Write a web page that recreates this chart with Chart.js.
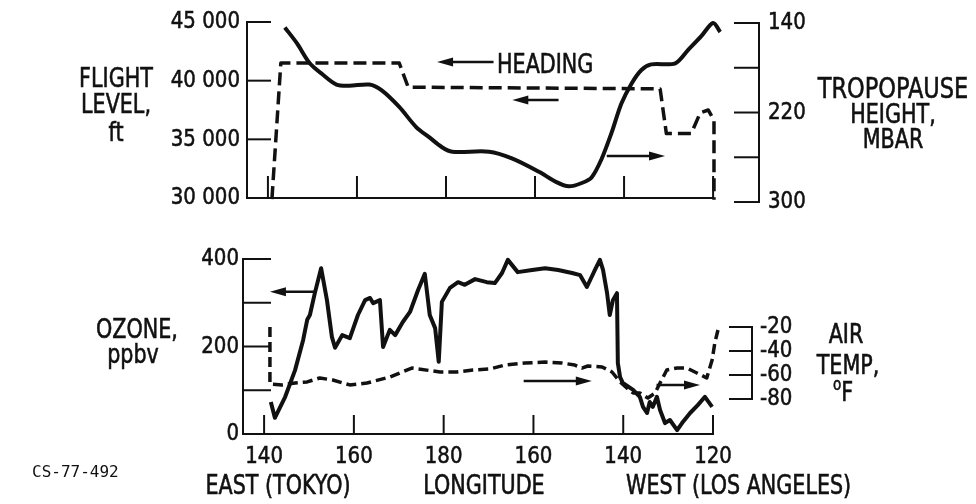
<!DOCTYPE html>
<html>
<head>
<meta charset="utf-8">
<script src="https://cdn.jsdelivr.net/npm/chart.js@4.4.1/dist/chart.umd.min.js"></script>
<style>
  html, body { margin: 0; padding: 0; background: #fff; }
  #wrap { position: relative; width: 976px; height: 504px; overflow: hidden; }
  canvas { position: absolute; left: 0; }
  #top { top: 0; }
  #bottom { top: 232px; }
  .lbl {
    position: absolute; transform: translate(-50%, -50%) scale(1, 1.15); white-space: nowrap;
    font-family: 'DejaVu Sans Condensed', 'Liberation Sans Narrow', 'DejaVu Sans', sans-serif;
    font-stretch: condensed; font-size: 23px; line-height: 1; color: #111;
    -webkit-text-stroke: 0.5px #111;
  }
  .left { transform: translate(0, -50%) scale(1, 1.15); transform-origin: left center; }
  .code { font-family: 'DejaVu Sans Mono', monospace; font-size: 16px; font-stretch: normal;
    transform: translate(0, -50%); -webkit-text-stroke: 0; }
  sup { font-size: 15px; vertical-align: 9px; }
</style>
</head>
<body>
<div id="wrap">
  <canvas id="top" width="976" height="232"></canvas>
  <canvas id="bottom" width="976" height="272"></canvas>

  <div class="lbl" style="left:116px; top:78px;">FLIGHT</div>
  <div class="lbl" style="left:116px; top:104px;">LEVEL,</div>
  <div class="lbl" style="left:116px; top:132px;">ft</div>

  <div class="lbl" style="left:893px; top:88px; font-size:25px;">TROPOPAUSE</div>
  <div class="lbl" style="left:893px; top:114px;">HEIGHT,</div>
  <div class="lbl" style="left:893px; top:139px;">MBAR</div>

  <div class="lbl left" style="left:497px; top:64px;">HEADING</div>

  <div class="lbl" style="left:137px; top:329px;">OZONE,</div>
  <div class="lbl" style="left:133px; top:354px;">ppbv</div>

  <div class="lbl" style="left:846px; top:334px;">AIR</div>
  <div class="lbl" style="left:848px; top:365px;">TEMP,</div>
  <div class="lbl" style="left:843px; top:391px;"><sup>o</sup>F</div>

  <div class="lbl" style="left:278px; top:485px;">EAST (TOKYO)</div>
  <div class="lbl" style="left:484px; top:485px;">LONGITUDE</div>
  <div class="lbl left" style="left:626px; top:485px;">WEST (LOS ANGELES)</div>

  <div class="lbl left code" style="left:32px; top:472px;">CS-77-492</div>
</div>

<script>
// longitude runs east -> west: 140E=140, 180=180, 160W=200, 140W=220, 120W=240
const lonTicks = [140, 160, 180, 200, 220, 240];
const lonLabels = ['140', '160', '180', '160', '140', '120'];

// top panel: flight level (dashed, left axis)
const flightLon = [140.9, 142.9, 169.5, 171.5, 228.1, 229.5, 235.1, 237.1, 238.9, 240.2, 240.2];
const flightFt = [29900, 41500, 41500, 39450, 39300, 35500, 35500, 37250, 37500, 36650, 29850];
const flightTicks = [45000, 40000, 35000, 30000];
const flightLabels = ['45 000', '40 000', '35 000', '30 000'];

// top panel: tropopause height (solid, right axis, reversed)
const tropoLon = [143.8, 146.5, 149.4, 152.3, 155.4, 158.3, 162.8, 165.5, 169.5, 173.3, 176.2,
  179.1, 181.4, 189.7, 194.8, 200.9, 204.7, 207.6, 210.5, 212.7, 214.9, 217.2, 219.4, 221.7,
  223.9, 226.1, 231.5, 234.4, 237.3, 240.0, 241.6];
const tropoMbar = [144, 158, 176, 186, 195, 196, 195, 200, 215, 233, 242,
  251, 255, 255, 261, 273, 282, 286, 283, 278, 262, 238, 212, 194,
  182, 177, 176, 164, 152, 140, 148];
const tropoTicks = [140, 180, 220, 260, 300];
const tropoLabels = ['140', '', '220', '', '300'];

// bottom panel: ozone (solid, left axis)
const ozoneLon = [141.5, 142.4, 144.7, 146.9, 148.7, 149.6, 150.2, 151.3, 152.7, 154.0, 155.1,
  155.8, 157.4, 159.1, 160.9, 162.5, 163.6, 164.3, 165.8, 166.5, 168.0, 169.2, 170.9, 172.5,
  174.3, 175.8, 176.9, 178.1, 178.9, 179.6, 181.4, 183.2, 184.7, 187.0, 189.6, 191.4, 193.0,
  194.3, 196.5, 199.7, 202.6, 205.5, 208.6, 210.4, 211.9, 213.7, 214.8, 215.5, 216.4, 217.0,
  217.7, 218.6, 218.8, 219.3, 219.9, 222.2, 223.7, 224.4, 225.3, 225.9, 226.6, 227.5, 228.2,
  229.3, 230.4, 232.0, 233.1, 234.9, 236.6, 238.2, 239.8];
const ozonePpbv = [73, 37, 85, 146, 215, 261, 272, 322, 379, 306, 222,
  197, 226, 219, 272, 306, 311, 299, 306, 199, 238, 226, 256, 279,
  329, 366, 272, 242, 165, 302, 334, 347, 341, 354, 347, 345, 368,
  398, 370, 375, 379, 375, 368, 363, 336, 375, 398, 375, 322, 272,
  306, 322, 162, 130, 117, 101, 85, 62, 48, 73, 62, 85, 55,
  25, 32, 9, 25, 48, 66, 85, 62];
const ozoneTicks = [400, 300, 200, 100, 0];
const ozoneLabels = ['400', '', '200', '', '0'];

// bottom panel: air temperature (dashed, right axis)
const tempLon = [141.3, 141.3, 144.0, 146.9, 149.6, 152.4, 155.3, 159.1, 162.9, 168.0, 172.9,
  179.2, 182.9, 186.5, 190.3, 193.7, 198.1, 202.6, 206.3, 209.2, 210.8, 212.1, 215.3, 217.5,
  219.3, 220.8, 222.2, 223.7, 225.5, 227.1, 228.2, 229.7, 232.0, 234.2, 236.4, 238.6, 239.8,
  240.4, 241.1];
const tempF = [-20, -67.5, -68.3, -66.7, -65.8, -62.5, -64.2, -68.3, -66.7, -61.7, -54.2,
  -57.5, -57.5, -55.8, -55, -51.7, -50, -49.2, -50, -51.7, -54.2, -52.5, -53.3, -57.5,
  -65.8, -70.8, -75, -75, -79.2, -75, -66.7, -55.8, -54.2, -54.2, -58.3, -62.5, -47.5,
  -33.3, -22.5];
const tempTicks = [-20, -40, -60, -80];
const tempLabels = ['-20', '-40', '-60', '-80'];

const INK = '#111';
const TICK_FONT = "22px 'DejaVu Sans Condensed', 'Liberation Sans Narrow', 'DejaVu Sans', sans-serif";

function toPoints(xs, ys) {
  return xs.map((x, i) => ({ x: x, y: ys[i] }));
}

function seg(ctx, x1, y1, x2, y2) {
  ctx.beginPath();
  ctx.moveTo(x1, y1);
  ctx.lineTo(x2, y2);
  ctx.stroke();
}

function arrow(ctx, x1, y1, x2, y2) {
  const a = Math.atan2(y2 - y1, x2 - x1);
  const c = Math.cos(a), s = Math.sin(a);
  const head = 16, half = 4.5;
  seg(ctx, x1, y1, x2 - c * head * 0.7, y2 - s * head * 0.7);
  ctx.beginPath();
  ctx.moveTo(x2, y2);
  ctx.lineTo(x2 - c * head + s * half, y2 - s * head - c * half);
  ctx.lineTo(x2 - c * head - s * half, y2 - s * head + c * half);
  ctx.closePath();
  ctx.fill();
}

// tick label, a bit taller than the font like the typeset original
function label(ctx, text, x, y) {
  ctx.save();
  ctx.translate(x, y);
  ctx.scale(1, 1.08);
  ctx.fillText(text, 0, 0);
  ctx.lineWidth = 0.5;
  ctx.strokeText(text, 0, 0);
  ctx.restore();
}

// hand drawn style axes: inward ticks, detached right-hand brackets
const frame = {
  id: 'frame',
  afterDatasetsDraw(chart, args, opts) {
    const ctx = chart.ctx;
    const area = chart.chartArea;
    ctx.save();
    ctx.strokeStyle = INK;
    ctx.fillStyle = INK;
    ctx.lineWidth = 2;
    ctx.lineCap = 'square';
    ctx.font = TICK_FONT;
    ctx.textBaseline = 'middle';

    opts.axes.forEach(ax => {
      const sc = chart.scales[ax.scale];
      if (ax.side === 'bottom') {
        const y = area.bottom;
        seg(ctx, area.left, y, sc.getPixelForValue(ax.end), y);
        ax.ticks.forEach((v, i) => {
          const x = sc.getPixelForValue(v);
          seg(ctx, x, y, x, y - ax.tickLength);
          if (ax.labels && ax.labels[i]) {
            ctx.textAlign = 'center';
            label(ctx, ax.labels[i], x, y + ax.labelGap);
          }
        });
      } else {
        const left = ax.side === 'left';
        const x = left ? area.left : area.right + ax.offset;
        seg(ctx, x, sc.getPixelForValue(ax.ticks[0]), x, sc.getPixelForValue(ax.ticks[ax.ticks.length - 1]));
        ax.ticks.forEach((v, i) => {
          const y = sc.getPixelForValue(v);
          seg(ctx, x, y, left ? x + ax.tickLength : x - ax.tickLength, y);
          if (ax.labels[i]) {
            ctx.textAlign = left ? 'right' : 'left';
            label(ctx, ax.labels[i], left ? x - ax.labelGap : x + ax.labelGap, y);
          }
        });
      }
    });

    const xs = chart.scales.x;
    ctx.lineWidth = 2.5;
    opts.arrows.forEach(ar => {
      const ys = chart.scales[ar.scale];
      arrow(ctx, xs.getPixelForValue(ar.from[0]), ys.getPixelForValue(ar.from[1]),
        xs.getPixelForValue(ar.to[0]), ys.getPixelForValue(ar.to[1]));
    });
    ctx.restore();
  }
};

function lineSet(xs, ys, axis, width, dash, tension) {
  return {
    data: toPoints(xs, ys),
    yAxisID: axis,
    borderColor: INK,
    borderWidth: width,
    borderDash: dash,
    borderJoinStyle: 'round',
    borderCapStyle: 'butt',
    pointRadius: 0,
    tension: tension,
    fill: false,
    clip: false
  };
}

const baseOptions = {
  responsive: false,
  animation: false,
  devicePixelRatio: 1,
  events: [],
  plugins: { legend: { display: false }, tooltip: { enabled: false } }
};

new Chart(document.getElementById('top'), {
  type: 'line',
  data: {
    datasets: [
      lineSet(flightLon, flightFt, 'y', 3.5, [13, 6], 0),
      lineSet(tropoLon, tropoMbar, 'y2', 4, [], 0.3)
    ]
  },
  options: {
    ...baseOptions,
    layout: { padding: { left: 247, right: 254, top: 22, bottom: 34 } },
    scales: {
      x: { type: 'linear', min: 135.3, max: 242, display: false },
      y: { type: 'linear', min: 30000, max: 45000, display: false },
      y2: { type: 'linear', min: 139.1, max: 296.4, reverse: true, display: false }
    },
    plugins: {
      ...baseOptions.plugins,
      frame: {
        axes: [
          { scale: 'x', side: 'bottom', ticks: lonTicks, end: 240, tickLength: 21 },
          { scale: 'y', side: 'left', ticks: flightTicks, labels: flightLabels, tickLength: 23, labelGap: 7 },
          { scale: 'y2', side: 'right', offset: 37, ticks: tropoTicks, labels: tropoLabels, tickLength: 24, labelGap: 9 }
        ],
        arrows: [
          { scale: 'y', from: [190.4, 41600], to: [178.0, 41600] },
          { scale: 'y', from: [205.0, 38350], to: [194.9, 38350] },
          { scale: 'y', from: [216.4, 33580], to: [229.2, 33580] }
        ]
      }
    }
  },
  plugins: [frame]
});

new Chart(document.getElementById('bottom'), {
  type: 'line',
  data: {
    datasets: [
      lineSet(ozoneLon, ozonePpbv, 'y', 4, [], 0),
      lineSet(tempLon, tempF, 'y2', 3.5, [10, 5], 0)
    ]
  },
  options: {
    ...baseOptions,
    layout: { padding: { left: 243, right: 254, top: 27, bottom: 70 } },
    scales: {
      x: { type: 'linear', min: 135.3, max: 242, display: false },
      y: { type: 'linear', min: 0, max: 400, display: false },
      y2: { type: 'linear', min: -109.2, max: 36.7, display: false }
    },
    plugins: {
      ...baseOptions.plugins,
      frame: {
        axes: [
          { scale: 'x', side: 'bottom', ticks: lonTicks, labels: lonLabels, end: 240, tickLength: 18, labelGap: 23 },
          { scale: 'y', side: 'left', ticks: ozoneTicks, labels: ozoneLabels, tickLength: 27, labelGap: 4 },
          { scale: 'y2', side: 'right', offset: 30, ticks: tempTicks, labels: tempLabels, tickLength: 22, labelGap: 8 }
        ],
        arrows: [
          { scale: 'y', from: [151.3, 325], to: [141.3, 325] },
          { scale: 'y', from: [198.1, 121], to: [213.0, 121] },
          { scale: 'y', from: [227.7, 112], to: [237.1, 112] }
        ]
      }
    }
  },
  plugins: [frame]
});
</script>
</body>
</html>
